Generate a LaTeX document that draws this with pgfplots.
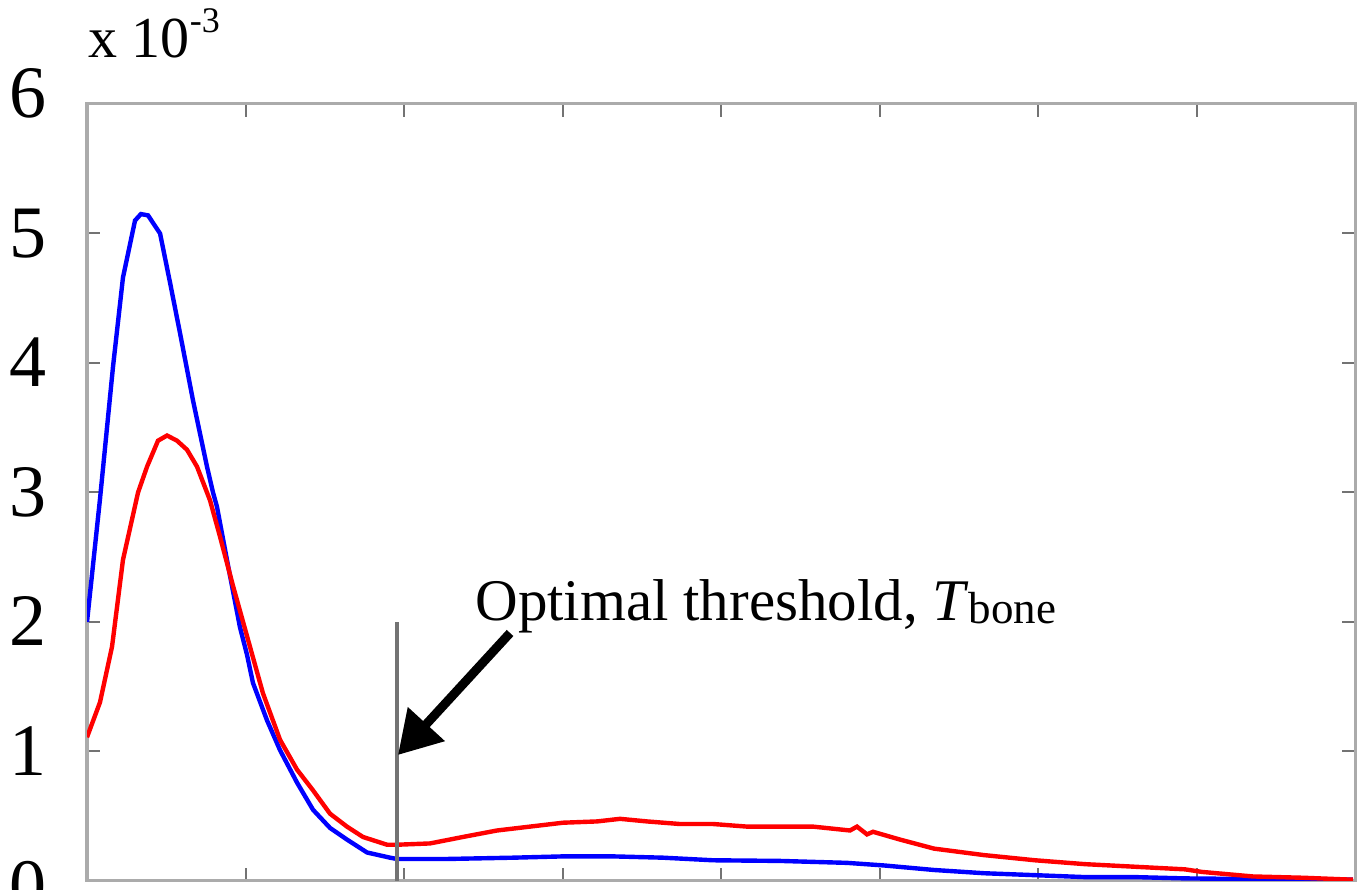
\documentclass[border=0pt]{standalone}
\usepackage{pgfplots}
\pgfplotsset{compat=1.18}
\usepackage{fontspec}
\setmainfont{Liberation Serif}
\usetikzlibrary{arrows.meta}

\begin{document}
\begin{tikzpicture}
\begin{axis}[
    name=ax,
    scale only axis,
    width=634pt, height=388.5pt,
    xmin=0, xmax=8, ymin=0, ymax=6,
    xtick={0,1,...,8}, xticklabels={},
    ytick={0,1,...,6},
    yticklabels={\raisebox{-3pt}{0},1,2,3,4,5,\raisebox{5pt}{6}},
    tick align=inside,
    major tick length=6.5pt,
    axis line style={draw=black!33, line width=1.5pt},
    tick style={draw=black!55, line width=1pt},
    yticklabel style={font=\fontsize{37}{37}\selectfont, anchor=base east,
        inner sep=0pt, xshift=-20pt, yshift=-12pt},
]
% blue histogram
\addplot[blue, line width=2.2pt] coordinates {
 (0,2.00) (0.082,2.95) (0.164,3.97) (0.227,4.66) (0.303,5.10) (0.34,5.15)
 (0.385,5.14) (0.461,5.00) (0.524,4.62) (0.587,4.23) (0.669,3.71)
 (0.757,3.20) (0.795,3.00) (0.820,2.89) (0.883,2.48) (0.965,1.96)
 (1.009,1.75) (1.047,1.53) (1.136,1.24) (1.218,1.01) (1.325,0.76)
 (1.426,0.55) (1.533,0.41) (1.640,0.32) (1.767,0.22) (1.912,0.18)
 (1.956,0.17) (2.271,0.17) (2.688,0.18) (3.003,0.19) (3.319,0.19)
 (3.634,0.18) (3.950,0.16) (4.372,0.155) (4.795,0.14) (5.028,0.12)
 (5.344,0.085) (5.659,0.06) (5.981,0.045) (6.297,0.03) (6.612,0.03)
 (6.927,0.02) (7.356,0.015) (7.987,0.01)
};
% red histogram
\addplot[red, line width=2.2pt] coordinates {
 (0,1.11) (0.082,1.38) (0.158,1.81) (0.227,2.48) (0.322,3.00) (0.379,3.20)
 (0.448,3.40) (0.505,3.44) (0.568,3.40) (0.631,3.33) (0.694,3.20)
 (0.776,2.94) (0.839,2.66) (0.921,2.28) (1.028,1.81) (1.110,1.45)
 (1.218,1.09) (1.325,0.86) (1.426,0.70) (1.533,0.52) (1.640,0.42)
 (1.741,0.34) (1.893,0.28) (1.956,0.28) (2.164,0.29) (2.372,0.34)
 (2.587,0.39) (2.795,0.42) (3.003,0.45) (3.218,0.46) (3.363,0.48)
 (3.533,0.46) (3.741,0.44) (3.950,0.44) (4.164,0.42) (4.372,0.42)
 (4.580,0.42) (4.814,0.39) (4.858,0.42) (4.921,0.36) (4.959,0.38)
 (5.129,0.32) (5.344,0.25) (5.659,0.20) (5.981,0.16) (6.297,0.13)
 (6.612,0.11) (6.927,0.09) (7.035,0.07) (7.356,0.035) (7.672,0.025)
 (7.987,0.01)
};
% threshold
\addplot[draw=black!55, line width=2.4pt] coordinates {(1.956,0) (1.956,2)};
\draw[-{Triangle[length=21pt,width=24pt]}, line width=4.5pt]
    (axis cs:2.669,1.915) -- (axis cs:1.962,0.973);
\node[anchor=base west, inner sep=0pt, font=\fontsize{29.5}{29.5}\selectfont]
    at (axis cs:2.448,2.015)
    {Optimal threshold, \textit{T}\raisebox{-1.5pt}{\fontsize{22.5}{22.5}\selectfont bone}};
\end{axis}
\node[anchor=base west, inner sep=0pt, font=\fontsize{29}{29}\selectfont]
    at ([shift={(0.5pt,23pt)}]ax.north west)
    {x 10\raisebox{12.5pt}{\fontsize{18}{18}\selectfont -3}};
\pgfresetboundingbox
\path[use as bounding box] ([shift={(-43.5pt,-4.5pt)}]ax.south west)
    rectangle ([shift={(3pt,52pt)}]ax.north east);
\end{tikzpicture}
\end{document}
